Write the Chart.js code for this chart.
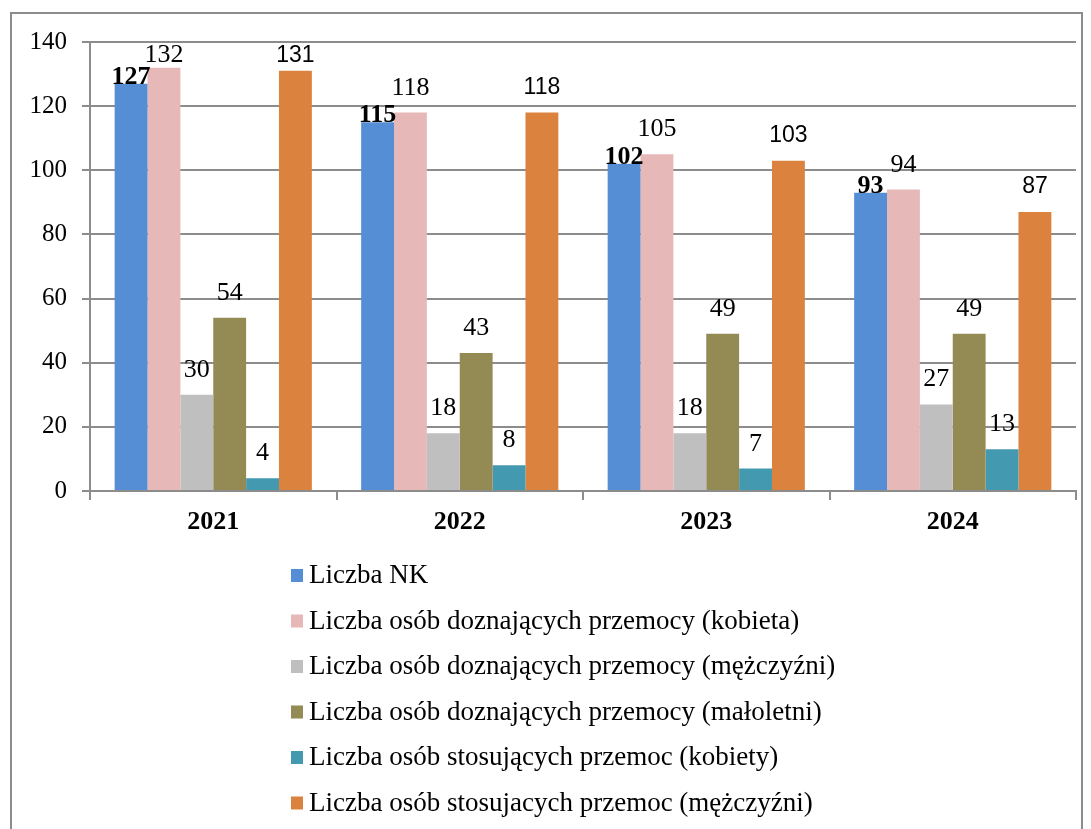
<!DOCTYPE html>
<html>
<head>
<meta charset="utf-8">
<script src="https://cdn.jsdelivr.net/npm/chart.js@4.4.1/dist/chart.umd.min.js"></script>
<style>
  html, body { margin: 0; padding: 0; background: #fff; }
  #wrap { position: relative; width: 1091px; height: 829px; overflow: hidden; }
  #frame { position: absolute; left: 10px; top: 12px; width: 1073px; height: 840px; border: 2px solid #8c8c8c; box-sizing: border-box; }
  #chart { position: absolute; left: 0; top: 0; }
</style>
</head>
<body>
<div id="wrap">
  <div id="frame"></div>
  <canvas id="chart" width="1091" height="829"></canvas>
</div>
<script>
// Przemoc domowa - zestawienie 2021-2024
const years = ['2021', '2022', '2023', '2024'];
const seriesNames = [
    'Liczba NK',
    'Liczba osób doznających przemocy (kobieta)',
    'Liczba osób doznających przemocy (mężczyźni)',
    'Liczba osób doznających przemocy (małoletni)',
    'Liczba osób stosujących przemoc (kobiety)',
    'Liczba osób stosujacych przemoc (mężczyźni)'
];
const nk = [127, 115, 102, 93];
const victimsWomen = [132, 118, 105, 94];
const victimsMen = [30, 18, 18, 27];
const victimsMinors = [54, 43, 49, 49];
const perpWomen = [4, 8, 7, 13];
const perpMen = [131, 118, 103, 87];
const yTicks = [0, 20, 40, 60, 80, 100, 120, 140];

const colors = ['#558ed5', '#e6b9b8', '#bfbfbf', '#948a54', '#4399b0', '#dc823f'];
const serif = '"Liberation Serif", "Times New Roman", serif';
const sans = '"Liberation Sans", Arial, sans-serif';
// label font per series
const labelFonts = [
    'bold 26px ' + serif,
    '26px ' + serif,
    '26px ' + serif,
    '26px ' + serif,
    '26px ' + serif,
    '23px ' + sans
];
const labelGap = [0, 18, 18, 18, 18, 19];

const datasets = [nk, victimsWomen, victimsMen, victimsMinors, perpWomen, perpMen].map((vals, i) => ({
    label: seriesNames[i],
    data: vals,
    backgroundColor: colors[i],
    borderWidth: 0
}));

// value labels above bars
const valueLabels = {
    id: 'valueLabels',
    afterDatasetsDraw(chart) {
        const ctx = chart.ctx;
        const top = chart.chartArea.top;
        ctx.save();
        ctx.fillStyle = '#000';
        ctx.textAlign = 'center';
        ctx.textBaseline = 'alphabetic';
        chart.data.datasets.forEach((ds, i) => {
            const meta = chart.getDatasetMeta(i);
            ctx.font = labelFonts[i];
            meta.data.forEach((bar, j) => {
                let y = bar.y - labelGap[i];
                if (y < top + 20) y = top + 20;
                ctx.fillText(ds.data[j], bar.x, y);
            });
        });
        ctx.restore();
    }
};

// vertical legend under the plot
const listLegend = {
    id: 'listLegend',
    afterDraw(chart) {
        const ctx = chart.ctx;
        ctx.save();
        ctx.font = '27px ' + serif;
        ctx.textBaseline = 'alphabetic';
        ctx.textAlign = 'left';
        chart.data.datasets.forEach((ds, i) => {
            const base = 583 + i * 45.5;
            ctx.fillStyle = ds.backgroundColor;
            ctx.fillRect(291, base - 14, 12, 13);
            ctx.fillStyle = '#000';
            ctx.fillText(ds.label, 309, base);
        });
        ctx.restore();
    }
};

const gridGray = '#8c8c8c';

new Chart(document.getElementById('chart'), {
    type: 'bar',
    data: { labels: years, datasets: datasets },
    options: {
        responsive: false,
        devicePixelRatio: 1,
        animation: false,
        layout: { padding: { left: 0, top: 42, right: 15, bottom: 298 } },
        datasets: { bar: { barPercentage: 1, categoryPercentage: 0.8 } },
        scales: {
            x: {
                afterFit(scale) { scale.height = 40; },
                grid: {
                    offset: true,
                    drawOnChartArea: false,
                    drawTicks: true,
                    tickLength: 9,
                    color: gridGray,
                    lineWidth: 2
                },
                border: { color: gridGray, width: 2 },
                ticks: {
                    color: '#000',
                    padding: 7,
                    font: { family: serif, size: 26, weight: 'bold' }
                }
            },
            y: {
                min: 0,
                max: 140,
                afterFit(scale) { scale.width = 90; },
                afterBuildTicks(scale) { scale.ticks = yTicks.map(v => ({ value: v })); },
                grid: {
                    color: gridGray,
                    lineWidth: 2,
                    tickLength: 8
                },
                border: { color: gridGray, width: 2 },
                ticks: {
                    color: '#000',
                    padding: 15,
                    font: { family: serif, size: 25 }
                }
            }
        },
        plugins: {
            legend: { display: false },
            tooltip: { enabled: false }
        }
    },
    plugins: [valueLabels, listLegend]
});
</script>
</body>
</html>
